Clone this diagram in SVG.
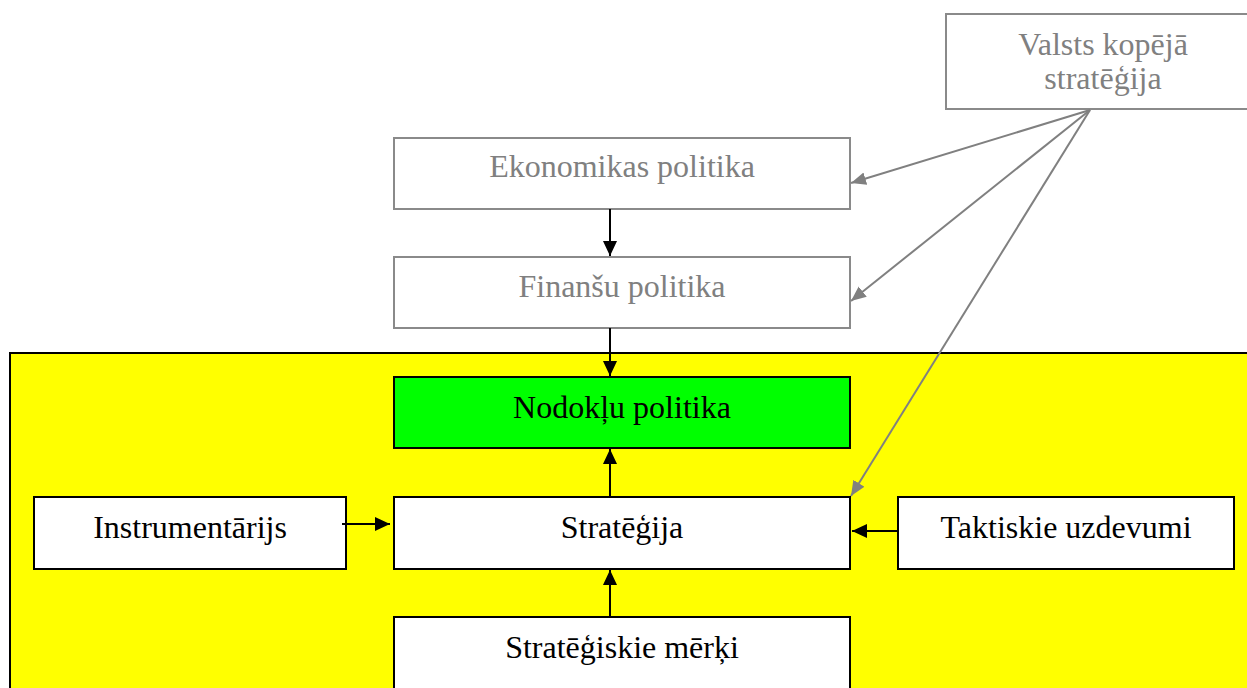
<svg xmlns="http://www.w3.org/2000/svg" width="1247" height="688" viewBox="0 0 1247 688">
  <style>
    .lbl { font-family: "Liberation Serif", "Times New Roman", serif; font-size: 32px; text-anchor: middle; }
    .dim { fill: #808080; }
    .dark { fill: #000000; }
    .boxg { fill: #ffffff; stroke: #8a8a8a; stroke-width: 2; }
    .boxk { fill: #ffffff; stroke: #000000; stroke-width: 2; }
    .cg { stroke: #808080; stroke-width: 2; fill: none; marker-end: url(#hg); }
    .ck { stroke: #000000; stroke-width: 2; fill: none; marker-end: url(#hk); }
  </style>
  <defs>
    <marker id="hk" markerUnits="userSpaceOnUse" markerWidth="16" markerHeight="16" viewBox="0 0 16 16" refX="15" refY="8" orient="auto">
      <path d="M0,1 L15,8 L0,15 Z" fill="#000000"/>
    </marker>
    <marker id="hg" markerUnits="userSpaceOnUse" markerWidth="16" markerHeight="16" viewBox="0 0 16 16" refX="15" refY="8" orient="auto">
      <path d="M0,1.5 L15,8 L0,14.5 Z" fill="#808080"/>
    </marker>
  </defs>

  <rect width="1247" height="688" fill="#ffffff"/>

  <!-- tax policy frame -->
  <g id="frame">
    <rect x="10" y="353" width="1250" height="350" fill="#ffff00" stroke="#000000" stroke-width="2"/>
  </g>

  <g id="valsts">
    <rect class="boxg" x="946" y="14" width="320" height="95"/>
    <text class="lbl dim" x="1103" y="55">Valsts kopējā</text>
    <text class="lbl dim" x="1103" y="89">stratēģija</text>
  </g>

  <g id="ekonomikas">
    <rect class="boxg" x="394" y="138" width="456" height="71"/>
    <text class="lbl dim" x="622" y="177">Ekonomikas politika</text>
  </g>

  <g id="finansu">
    <rect class="boxg" x="394" y="257" width="456" height="71"/>
    <text class="lbl dim" x="622" y="297">Finanšu politika</text>
  </g>

  <g id="nodoklu">
    <rect x="394" y="377" width="456" height="71" fill="#00ff00" stroke="#000000" stroke-width="2"/>
    <text class="lbl dark" x="622" y="418">Nodokļu politika</text>
  </g>

  <g id="instrumentarijs">
    <rect class="boxk" x="34" y="497" width="312" height="72"/>
    <text class="lbl dark" x="190" y="538">Instrumentārijs</text>
  </g>

  <g id="strategija">
    <rect class="boxk" x="394" y="497" width="456" height="72"/>
    <text class="lbl dark" x="622" y="538">Stratēģija</text>
  </g>

  <g id="taktiskie">
    <rect class="boxk" x="898" y="497" width="336" height="72"/>
    <text class="lbl dark" x="1066" y="538">Taktiskie uzdevumi</text>
  </g>

  <g id="merki">
    <rect class="boxk" x="394" y="617" width="456" height="90"/>
    <text class="lbl dark" x="622" y="658">Stratēģiskie mērķi</text>
  </g>

  <g id="connectors">
    <line class="ck" x1="610" y1="209" x2="610" y2="256"/>
    <line class="ck" x1="610" y1="328" x2="610" y2="376"/>
    <line class="ck" x1="610" y1="497" x2="610" y2="449"/>
    <line class="ck" x1="610" y1="617" x2="610" y2="570"/>
    <line class="ck" x1="342" y1="524" x2="390" y2="524"/>
    <line class="ck" x1="898" y1="531" x2="852" y2="531"/>
    <line class="cg" x1="1090" y1="110" x2="851" y2="183"/>
    <line class="cg" x1="1090" y1="110" x2="851" y2="301"/>
    <line class="cg" x1="1090" y1="110" x2="851" y2="496"/>
  </g>
</svg>
